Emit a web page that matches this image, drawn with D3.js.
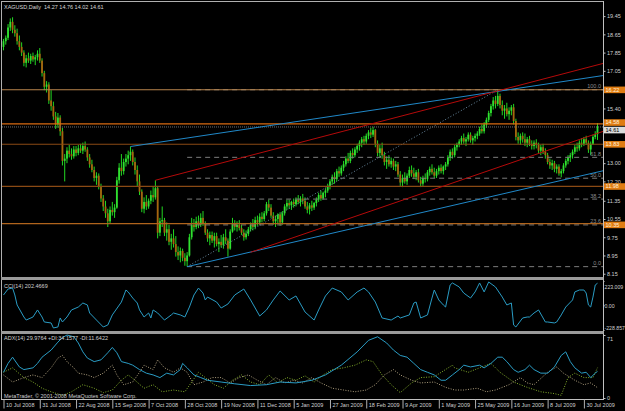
<!DOCTYPE html>
<html><head><meta charset="utf-8">
<script src="https://cdn.jsdelivr.net/npm/d3@7/dist/d3.min.js"></script>
<style>
html,body{margin:0;padding:0;background:#000;overflow:hidden}
svg{display:block}
text{font-family:"Liberation Sans",Arial,sans-serif;font-size:5.5px}
</style></head><body>
<svg id="c" width="625" height="411"></svg>
<script>
// ---------------- DATA ----------------
const title = "XAGUSD,Daily\u00a0\u00a014.27 14.76 14.02 14.61";
const opens = [
18.10,18.35,18.50,18.95,19.20,18.85,18.70,18.35,18.10,17.85,
17.40,17.60,17.50,17.70,17.55,17.65,17.80,17.50,16.95,16.35,
16.45,15.75,15.50,15.05,14.70,15.00,14.40,13.10,13.20,13.55,
13.40,13.30,13.60,13.45,13.65,13.55,13.75,13.60,13.25,12.95,
12.70,12.35,12.45,11.95,11.45,11.10,10.80,10.45,10.95,10.85,
11.05,12.25,12.80,12.65,13.05,13.20,13.35,13.50,13.05,12.70,
12.20,11.75,11.00,11.30,11.10,11.35,11.60,11.50,11.90,9.95,
10.45,10.50,9.95,10.10,9.55,9.70,9.45,9.10,8.95,9.15,
8.85,8.70,8.95,9.75,10.30,10.20,10.45,10.30,10.60,10.35,
9.95,9.70,9.85,9.60,9.80,9.45,9.55,9.40,9.75,9.60,
9.25,10.00,10.35,10.20,10.30,10.15,9.95,9.75,9.90,10.10,
10.30,10.20,10.50,10.40,10.65,10.55,10.80,11.20,11.05,10.70,
10.45,10.55,10.75,10.40,10.80,11.10,11.25,11.15,11.30,11.20,
11.40,11.30,11.45,11.35,11.10,11.00,11.15,11.05,11.25,11.40,
11.60,11.45,11.70,11.80,12.00,12.20,12.40,12.30,12.65,12.55,
12.80,12.95,13.20,13.10,13.45,13.35,13.60,13.75,13.90,14.05,
13.95,14.20,14.35,14.25,14.45,13.85,13.45,13.65,13.35,13.05,
13.15,12.95,13.10,12.85,12.95,12.50,12.15,12.35,12.20,12.45,
12.70,12.55,12.40,12.60,12.25,12.10,12.35,12.30,12.60,12.75,
12.60,12.45,12.65,12.80,12.65,12.85,12.95,13.25,13.50,13.35,
13.70,13.80,13.95,14.10,13.95,14.05,14.25,14.00,14.10,14.20,
14.30,14.50,14.40,14.70,14.90,15.20,15.50,15.75,15.60,15.95,
15.55,15.30,15.40,15.15,15.30,15.45,14.85,14.15,14.00,14.20,
14.05,13.90,14.05,13.85,13.75,13.90,13.80,13.55,13.70,13.50,
13.35,13.05,12.90,13.00,12.75,12.85,12.55,12.65,12.90,13.10,
13.25,13.35,13.50,13.70,13.65,13.90,13.85,14.05,13.90,13.60,
13.85,14.15,14.27];
const highs = [
18.45,18.60,19.10,19.35,19.40,19.05,18.90,18.60,18.30,17.95,
17.75,17.85,17.80,17.85,17.75,17.95,18.05,17.60,17.05,16.60,
16.55,16.20,15.70,15.25,15.20,15.10,14.55,13.40,13.70,13.80,
13.65,13.75,13.75,13.80,13.85,13.90,13.95,13.70,13.40,13.15,
12.85,12.60,12.55,12.10,11.60,11.35,11.00,11.10,11.30,11.20,
12.40,13.00,13.40,13.20,13.40,13.55,13.73,13.60,13.25,12.90,
12.50,11.85,11.50,11.60,11.45,11.80,11.95,12.25,12.00,10.60,
11.10,10.60,10.40,10.30,9.90,10.10,9.80,9.35,9.30,9.25,
9.05,9.10,9.90,10.60,10.55,10.65,10.70,10.80,10.90,10.45,
10.10,10.00,10.00,9.95,9.95,9.70,9.85,9.90,10.10,9.70,
10.10,10.60,10.50,10.45,10.50,10.30,10.10,10.05,10.20,10.40,
10.55,10.65,10.70,10.80,10.85,10.90,11.30,11.40,11.20,10.85,
10.70,10.80,10.85,10.90,11.20,11.40,11.40,11.35,11.45,11.50,
11.60,11.55,11.65,11.50,11.30,11.25,11.35,11.30,11.50,11.70,
11.80,11.75,11.90,12.10,12.30,12.50,12.60,12.75,12.85,12.90,
13.10,13.30,13.45,13.55,13.65,13.70,13.85,14.00,14.15,14.20,
14.30,14.45,14.55,14.60,14.50,14.00,13.80,13.90,13.50,13.30,
13.35,13.25,13.20,13.10,13.05,12.65,12.50,12.60,12.55,12.85,
12.90,12.80,12.70,12.75,12.40,12.45,12.55,12.70,12.85,12.95,
12.80,12.75,12.90,12.95,12.90,13.05,13.35,13.60,13.65,13.80,
13.90,14.05,14.20,14.30,14.15,14.35,14.35,14.20,14.30,14.40,
14.60,14.70,14.80,15.00,15.30,15.60,15.90,15.95,16.22,16.05,
15.75,15.55,15.65,15.45,15.55,15.60,14.95,14.35,14.30,14.35,
14.30,14.15,14.20,14.00,14.00,14.05,13.90,13.80,13.85,13.65,
13.45,13.20,13.15,13.10,12.95,12.95,12.75,13.00,13.20,13.35,
13.45,13.60,13.80,13.90,14.00,14.10,14.15,14.20,14.00,13.95,
14.25,14.40,14.76];
const lows = [
17.95,18.20,18.40,18.80,18.70,18.55,18.20,17.95,17.70,17.25,
17.20,17.40,17.35,17.45,17.30,17.50,17.40,16.80,16.20,16.10,
15.60,15.30,14.90,14.50,14.55,14.20,12.90,12.20,13.00,13.25,
13.15,13.20,13.30,13.35,13.45,13.40,13.50,13.10,12.80,12.60,
12.20,12.05,11.85,11.30,10.90,10.60,10.20,10.35,10.70,10.60,
11.00,12.10,12.45,12.50,12.85,12.95,13.10,12.90,12.50,12.00,
11.60,10.85,10.80,10.95,11.00,11.20,11.30,11.40,9.70,9.80,
10.20,9.80,9.60,9.40,9.20,9.30,8.90,8.75,8.65,8.70,
8.50,8.46,8.90,9.65,10.00,10.10,10.15,10.20,10.25,9.85,
9.55,9.40,9.50,9.30,9.35,9.10,9.30,9.25,9.45,8.90,
9.20,9.95,10.05,10.00,10.05,9.85,9.60,9.65,9.80,10.00,
10.05,10.10,10.25,10.30,10.40,10.45,10.70,10.90,10.60,10.30,
10.20,10.35,10.25,10.30,10.70,10.95,11.00,10.95,11.05,11.10,
11.20,11.10,11.20,11.00,10.80,10.75,10.90,10.95,11.10,11.30,
11.35,11.40,11.50,11.70,11.85,12.05,12.10,12.20,12.40,12.45,
12.65,12.85,13.00,13.00,13.20,13.25,13.45,13.55,13.70,13.80,
13.85,14.05,14.10,14.15,13.70,13.30,13.25,13.20,12.90,12.75,
12.85,12.80,12.70,12.65,12.40,12.00,11.95,12.10,12.05,12.35,
12.40,12.30,12.25,12.15,11.95,12.00,12.15,12.20,12.45,12.50,
12.35,12.35,12.50,12.55,12.50,12.70,12.85,13.10,13.20,13.25,
13.55,13.70,13.80,13.85,13.75,13.95,13.90,13.80,13.95,14.05,
14.20,14.30,14.30,14.55,14.80,15.05,15.35,15.40,15.50,15.40,
15.10,14.95,15.05,14.90,15.10,14.70,14.00,13.85,13.80,13.90,
13.75,13.70,13.75,13.60,13.60,13.65,13.45,13.35,13.40,13.20,
12.95,12.75,12.70,12.60,12.55,12.45,12.38,12.55,12.80,12.95,
13.05,13.20,13.40,13.50,13.55,13.70,13.75,13.80,13.45,13.35,
13.80,14.05,14.02];
const closes = [
18.35,18.50,18.95,19.20,18.85,18.70,18.35,18.10,17.85,17.40,
17.60,17.50,17.70,17.55,17.65,17.80,17.50,16.95,16.35,16.45,
15.75,15.50,15.05,14.70,15.00,14.40,13.10,13.20,13.55,13.40,
13.30,13.60,13.45,13.65,13.55,13.75,13.60,13.25,12.95,12.70,
12.35,12.45,11.95,11.45,11.10,10.80,10.45,10.95,10.85,11.05,
12.25,12.80,12.65,13.05,13.20,13.35,13.50,13.05,12.70,12.20,
11.75,11.00,11.30,11.10,11.35,11.60,11.50,11.90,9.95,10.45,
10.50,9.95,10.10,9.55,9.70,9.45,9.10,8.95,9.15,8.85,
8.70,8.95,9.75,10.30,10.20,10.45,10.30,10.60,10.35,9.95,
9.70,9.85,9.60,9.80,9.45,9.55,9.40,9.75,9.60,9.25,
10.00,10.35,10.20,10.30,10.15,9.95,9.75,9.90,10.10,10.30,
10.20,10.50,10.40,10.65,10.55,10.80,11.20,11.05,10.70,10.45,
10.55,10.75,10.40,10.80,11.10,11.25,11.15,11.30,11.20,11.40,
11.30,11.45,11.35,11.10,10.95,11.15,11.05,11.25,11.40,11.60,
11.45,11.70,11.80,12.00,12.20,12.40,12.30,12.65,12.55,12.80,
12.95,13.20,13.10,13.45,13.35,13.60,13.75,13.90,14.05,13.95,
14.20,14.35,14.25,14.45,13.85,13.45,13.65,13.35,13.05,13.15,
12.95,13.10,12.85,12.95,12.50,12.15,12.35,12.20,12.45,12.70,
12.55,12.40,12.60,12.25,12.10,12.35,12.30,12.60,12.75,12.60,
12.45,12.65,12.80,12.65,12.85,12.95,13.25,13.50,13.35,13.70,
13.80,13.95,14.10,13.95,14.05,14.25,14.00,14.10,14.20,14.30,
14.50,14.40,14.70,14.90,15.20,15.50,15.75,15.60,15.95,15.55,
15.30,15.40,15.15,15.30,15.45,14.85,14.15,14.00,14.20,14.05,
13.90,14.05,13.85,13.75,13.90,13.80,13.55,13.70,13.50,13.35,
13.05,12.90,13.00,12.75,12.85,12.55,12.65,12.90,13.10,13.25,
13.35,13.50,13.70,13.65,13.90,13.85,14.05,13.90,13.60,13.85,
14.15,14.27,14.61];

const dateLabels = ["10 Jul 2008","31 Jul 2008","22 Aug 2008","15 Sep 2008","7 Oct 2008","28 Oct 2008","19 Nov 2008","11 Dec 2008","5 Jan 2009","27 Jan 2009","18 Feb 2009","9 Apr 2009","1 May 2009","25 May 2009","16 Jun 2009","8 Jul 2009","30 Jul 2009"];
const dateLabelBars = [0,16,32,48,64,80,96,112,128,144,160,176,192,208,224,240,256];
const priceTicks = [19.45,18.65,17.85,17.05,15.40,13.00,12.20,11.35,10.55,9.75,8.95,8.15];

const hLinePrices = [16.22,14.72,13.83,11.98,10.35];
const hLineLabels = ["16.22","14.58","13.83","11.98","10.35"];
const bidPrice = 14.61;

const fibAnchorBars = [81,218];
const fibAnchorPrices = [8.46,16.22];
const fibRatios = [0,23.6,38.2,50,61.8,100];
const fibLabels = ["0.0","23.6","38.2","50.0","61.8","100.0"];

const blueUpperBars = [56,218],  blueUpperPrices = [13.73,16.15];
const blueLowerBars = [81,245],  blueLowerPrices = [8.46,12.22];
const redUpperBars  = [67,218],  redUpperPrices  = [12.25,16.17];
const redLowerBars  = [109,240], redLowerPrices  = [9.09,13.56];

const cciLabel = "CCI(14) 202.4669";
const cciBars = [0,2,4,5,6,9,10,13,15,17,18,21,22,24,25,26,28,30,33,35,37,38,41,44,46,48,52,54,55,57,59,60,62,64,65,66,68,71,74,75,78,80,82,84,86,88,89,90,94,96,99,102,106,109,113,116,119,122,126,129,133,137,139,142,145,149,152,156,159,161,164,167,171,174,175,179,181,182,184,187,189,190,192,194,195,197,198,201,203,206,208,210,212,213,214,217,220,222,224,225,226,229,231,232,234,236,239,240,243,244,246,248,251,252,254,256,257,258,259,260,261,262];
const cciValues = [94,149,158,94,2,-109,-137,-109,-44,-109,-155,-164,-210,-201,-118,-155,-109,-44,-17,20,2,-72,-137,-201,-183,-90,29,140,122,66,20,-44,-109,-72,-118,-44,-72,-137,-90,-72,-90,-109,-17,94,158,112,48,75,29,-26,11,94,149,48,-100,-44,48,131,48,85,-63,-137,-44,85,158,122,48,122,158,122,29,-118,-137,-100,-118,-90,20,29,-118,-90,66,140,48,2,-17,186,205,168,112,66,122,205,122,168,214,168,75,2,20,-183,-201,-118,-109,-109,-72,-44,-155,-155,-164,-155,-90,-17,48,122,140,140,112,2,-17,75,186,202.47];
const cciAxisLabels = ["223.009","0.00","-228.857"];
const cciAxisValues = [223.009,0,-228.857];

const adxLabel = "ADX(14) 29.9764 +DI:34.1577 -DI:11.6422";
const adxBars = [0,2,4,7,9,13,15,17,21,24,26,28,31,33,35,37,40,43,46,48,50,52,55,57,60,63,66,69,72,75,78,79,81,84,87,90,96,102,109,116,122,129,136,142,149,156,161,165,169,172,175,178,181,184,187,190,193,195,198,201,203,206,210,212,215,218,220,222,225,227,230,232,234,237,240,243,246,248,250,252,255,257,259,261,262];
const adxValues = [29,39,46,35,32,34,39,46,54,63,68,71,69,62,52,45,41,43,51,57,51,41,39,37,32,28,26,23,28,26,32,39,34,26,23,20,18,16,14,15,18,17,20,26,37,52,65,69,62,54,48,46,39,32,29,26,20,20,26,32,37,35,37,34,39,46,46,41,32,29,32,37,32,28,28,35,48,52,41,34,28,29,23,28,29.98];
const pdiBars = [0,4,9,13,17,21,26,30,35,40,44,48,52,55,58,62,66,70,75,80,83,86,89,93,97,101,105,109,113,117,121,125,129,133,137,141,145,150,155,160,163,167,171,175,180,184,190,198,199,205,215,219,225,231,237,243,246,249,252,256,260,262];
const pdiValues = [29,34,23,18,11,7,3,7,15,11,6,9,20,26,20,11,15,7,9,7,18,29,23,15,11,20,26,18,15,26,17,23,20,25,18,26,32,34,37,43,41,26,15,6,17,23,24,37,34,29,39,29,18,12,7,5,3,23,28,23,23,34.16];
const mdiBars = [0,4,9,13,17,21,24,26,28,31,33,37,40,44,48,50,53,57,60,62,66,68,71,75,78,81,84,88,92,96,100,104,108,112,116,120,124,128,132,136,140,145,150,155,160,164,168,172,175,180,184,190,195,199,203,209,213,217,223,228,231,234,240,244,247,252,256,259,262];
const mdiValues = [26,18,23,26,23,34,45,48,41,34,28,26,23,28,37,26,15,18,29,37,32,43,34,29,34,29,15,18,23,23,17,23,26,20,15,23,17,20,17,23,17,11,9,7,9,15,26,32,26,20,17,18,12,9,9,11,7,9,15,23,17,15,29,35,28,20,15,17,11.64];
const adxAxisLabels = ["71","0"];
const adxAxisValues = [71,0];
const copyright = "MetaTrader, \u00a9 2001-2008 MetaQuotes Software Corp.";

// ---------------- DRAW ----------------
const W = 625, H = 411, FS = "5.5px";
const svg = d3.select("#c");
const N = closes.length;
const plotL = 2, plotR = 603.5;
const x = d3.scaleLinear().domain([0, N - 1]).range([3.5, 597.5]);
const barRight = x.invert(plotR);
const y = d3.scaleLinear().domain([8.05, 20.07]).range([276, 2]);
const yC = d3.scaleLinear().domain([-228.857, 223.009]).range([330, 281]);
const yA = d3.scaleLinear().domain([0, 71]).range([398, 335]);

svg.append("rect").attr("width", W).attr("height", H).attr("fill", "#000");
const defs = svg.append("defs");
defs.append("clipPath").attr("id", "cm").append("rect").attr("x", plotL).attr("y", 2).attr("width", plotR - plotL).attr("height", 275);
defs.append("clipPath").attr("id", "cc").append("rect").attr("x", plotL).attr("y", 280).attr("width", plotR - plotL).attr("height", 51);
defs.append("clipPath").attr("id", "ca").append("rect").attr("x", plotL).attr("y", 334).attr("width", plotR - plotL).attr("height", 65);

const gMain = svg.append("g").attr("clip-path", "url(#cm)");

// candles
const gC = gMain.append("g");
const idx = d3.range(N);
gC.selectAll("line").data(idx).join("line")
  .attr("x1", i => x(i)).attr("x2", i => x(i))
  .attr("y1", i => y(highs[i])).attr("y2", i => y(lows[i]))
  .attr("stroke", "#22d822").attr("stroke-width", 1);
gC.selectAll("rect").data(idx).join("rect")
  .attr("x", i => x(i) - 0.9).attr("width", 1.8)
  .attr("y", i => y(Math.max(opens[i], closes[i])))
  .attr("height", i => Math.max(0.8, y(Math.min(opens[i], closes[i])) - y(Math.max(opens[i], closes[i]))))
  .attr("fill", i => closes[i] >= opens[i] ? "#30e030" : "#a8640f");

// fibonacci levels (dashed rays from the low anchor)
const fibRange = fibAnchorPrices[1] - fibAnchorPrices[0];
const fibPrices = fibRatios.map(r => fibAnchorPrices[0] + fibRange * r / 100);
gMain.append("g").selectAll("line").data(fibPrices).join("line")
  .attr("x1", x(fibAnchorBars[0])).attr("x2", plotR)
  .attr("y1", d => y(d)).attr("y2", d => y(d))
  .attr("stroke", "#7c7c7c").attr("stroke-width", 1).attr("stroke-dasharray", "5,4");
gMain.append("g").selectAll("text").data(fibPrices).join("text")
  .attr("x", 601).attr("y", d => y(d) - 1.5).attr("text-anchor", "end")
  .attr("fill", "#8c8c8c").text((d, i) => fibLabels[i]);
// fib dotted trend
gMain.append("line")
  .attr("x1", x(fibAnchorBars[0])).attr("y1", y(fibAnchorPrices[0]))
  .attr("x2", x(fibAnchorBars[1])).attr("y2", y(fibAnchorPrices[1]))
  .attr("stroke", "#6a8aa0").attr("stroke-width", 1).attr("stroke-dasharray", "1,2");

// horizontal lines
const hColors = ["#b8844c", "#d86a10", "#8a4a14", "#8a4a14", "#b0641c"];
gMain.append("g").selectAll("line").data(hLinePrices).join("line")
  .attr("x1", plotL).attr("x2", plotR)
  .attr("y1", d => y(d)).attr("y2", d => y(d))
  .attr("stroke", (d, i) => hColors[i]).attr("stroke-width", 1.2);
// bid line
gMain.append("line").attr("x1", plotL).attr("x2", plotR)
  .attr("y1", y(bidPrice) + 0.5).attr("y2", y(bidPrice) + 0.5)
  .attr("stroke", "#6c6c6c").attr("stroke-width", 1).attr("stroke-dasharray", "1,1");

// trend rays
function rayLine(bars, prices, color) {
  const slope = (prices[1] - prices[0]) / (bars[1] - bars[0]);
  gMain.append("line")
    .attr("x1", x(bars[0])).attr("y1", y(prices[0]))
    .attr("x2", x(barRight)).attr("y2", y(prices[0] + slope * (barRight - bars[0])))
    .attr("stroke", color).attr("stroke-width", 1);
}
rayLine(blueUpperBars, blueUpperPrices, "#2088c8");
rayLine(blueLowerBars, blueLowerPrices, "#2088c8");
rayLine(redUpperBars, redUpperPrices, "#b40a0a");
rayLine(redLowerBars, redLowerPrices, "#b40a0a");

// title
svg.append("text").attr("x", 4).attr("y", 9).attr("fill", "#d8d8d8").text(title);

// frame and separators
svg.append("line").attr("x1", 1.5).attr("x2", 1.5).attr("y1", 1).attr("y2", 400).attr("stroke", "#b0b0b0");
svg.append("line").attr("x1", 1).attr("x2", plotR).attr("y1", 1.5).attr("y2", 1.5).attr("stroke", "#b0b0b0");
svg.append("line").attr("x1", plotR).attr("x2", plotR).attr("y1", 1).attr("y2", 400).attr("stroke", "#c0c0c0");
svg.append("rect").attr("x", 1).attr("y", 277).attr("width", plotR - 1).attr("height", 3).attr("fill", "#9a9a9a");
svg.append("rect").attr("x", 1).attr("y", 331).attr("width", plotR - 1).attr("height", 3).attr("fill", "#9a9a9a");
svg.append("line").attr("x1", 1).attr("x2", plotR).attr("y1", 399.5).attr("y2", 399.5).attr("stroke", "#c0c0c0");

function styleAxis(g, fs) {
  g.select(".domain").remove();
  g.selectAll("line").attr("stroke", "#c0c0c0");
  g.selectAll("text").attr("fill", "#d0d0d0").style("font-size", fs || FS).style("font-family", "Liberation Sans, Arial, sans-serif");
}

// price axis
const pAxis = svg.append("g").attr("transform", `translate(${plotR},0)`)
  .call(d3.axisRight(y).tickValues(priceTicks).tickSize(2).tickPadding(1.5).tickFormat(d3.format(".2f")));
styleAxis(pAxis);

// price boxes
const boxY = [0, -1.5, 0, 0, 1.2];
const gB = svg.append("g");
hLinePrices.forEach((p, i) => {
  const cy = y(p) + boxY[i];
  gB.append("rect").attr("x", 604).attr("y", cy - 3.2).attr("width", 21).attr("height", 6.6).attr("fill", "#e07c12");
  gB.append("text").attr("x", 605.5).attr("y", cy + 2).attr("fill", "#fff2dc").text(hLineLabels[i]);
});
{
  const cy = y(bidPrice) + 3.5;
  gB.append("rect").attr("x", 604).attr("y", cy - 3.2).attr("width", 21).attr("height", 6.6).attr("fill", "#dcdcdc");
  gB.append("text").attr("x", 605.5).attr("y", cy + 2).attr("fill", "#000").text(bidPrice.toFixed(2));
}

// CCI window
const gCCI = svg.append("g").attr("clip-path", "url(#cc)");
gCCI.append("path").datum(cciBars.map((b, i) => [b, cciValues[i]]))
  .attr("d", d3.line().x(d => x(d[0])).y(d => yC(d[1])))
  .attr("fill", "none").attr("stroke", "#2a9cc4").attr("stroke-width", 1);
svg.append("text").attr("x", 4).attr("y", 288).attr("fill", "#d0d0d0").text(cciLabel);
const cAxis = svg.append("g").attr("transform", `translate(${plotR},0)`)
  .call(d3.axisRight(yC).tickValues(cciAxisValues).tickSize(1).tickPadding(0).tickFormat((d, i) => cciAxisLabels[i]));
styleAxis(cAxis, "5.2px");
cAxis.selectAll("text").attr("dy", (d, i) => [5, 0, -3][i] + 2 + "px");

// ADX window
const gADX = svg.append("g").attr("clip-path", "url(#ca)");
const lineA = d3.line().x(d => x(d[0])).y(d => yA(d[1]));
gADX.append("path").datum(pdiBars.map((b, i) => [b, pdiValues[i]]))
  .attr("d", lineA).attr("fill", "none").attr("stroke", "#9acd32").attr("stroke-width", 1).attr("stroke-dasharray", "1,1.5").attr("opacity", 0.85);
gADX.append("path").datum(mdiBars.map((b, i) => [b, mdiValues[i]]))
  .attr("d", lineA).attr("fill", "none").attr("stroke", "#e8d4a8").attr("stroke-width", 1).attr("stroke-dasharray", "1,1.5").attr("opacity", 0.75);
gADX.append("path").datum(adxBars.map((b, i) => [b, adxValues[i]]))
  .attr("d", lineA).attr("fill", "none").attr("stroke", "#2a9cc4").attr("stroke-width", 1);
svg.append("text").attr("x", 4).attr("y", 340).attr("fill", "#d0d0d0").text(adxLabel);
svg.append("text").attr("x", 4).attr("y", 397.5).attr("fill", "#d0d0d0").text(copyright);
const aAxis = svg.append("g").attr("transform", `translate(${plotR},0)`)
  .call(d3.axisRight(yA).tickValues(adxAxisValues).tickSize(2).tickPadding(1.5).tickFormat((d, i) => adxAxisLabels[i]));
styleAxis(aAxis);
aAxis.selectAll("text").attr("dy", (d, i) => [3, -1][i] + 2 + "px");

// date axis
const dAxis = svg.append("g").attr("transform", "translate(0,399.5)")
  .call(d3.axisBottom(x).tickValues(dateLabelBars).tickSize(9).tickFormat((d, i) => dateLabels[i]));
styleAxis(dAxis);
dAxis.selectAll("line").attr("stroke", "#b0b0b0");
dAxis.selectAll("text").attr("text-anchor", "start").attr("x", 2).attr("y", 4).attr("dy", "0.71em");
</script></body></html>
